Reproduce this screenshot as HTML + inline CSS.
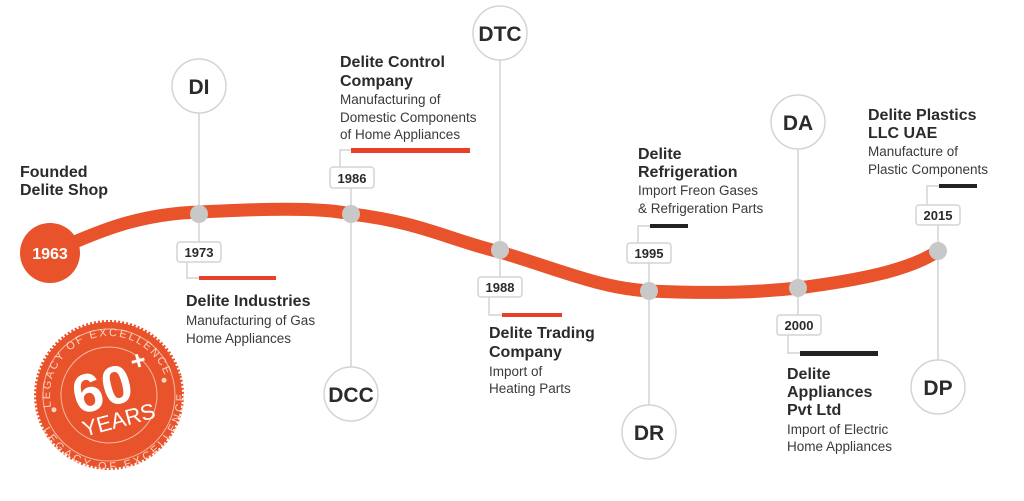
<!DOCTYPE html>
<html><head><meta charset="utf-8"><style>
html,body{margin:0;padding:0;background:#fff;}
svg{display:block}
text{font-family:"Liberation Sans",sans-serif;}
.h{font-weight:bold;font-size:16px;fill:#2b2b2b}
.s{font-size:13.5px;fill:#3a3a3a}
.y{font-weight:bold;font-size:13px;fill:#2b2b2b}
.c{font-weight:bold;font-size:21px;fill:#2b2b2b}
</style></head><body>
<svg width="1024" height="501" viewBox="0 0 1024 501" xmlns="http://www.w3.org/2000/svg">
<defs>
<path id="arcT" d="M 50 395 A 59 59 0 0 1 168 395"/>
<path id="arcB" d="M 43 395 A 66 66 0 0 0 175 395"/>
</defs>
<g stroke="#d4d4d4" stroke-width="1.5" fill="none">
<line x1="199" y1="113" x2="199" y2="242"/>
<polyline points="187,262 187,278 199,278"/>
<line x1="351" y1="188" x2="351" y2="367"/>
<polyline points="340,167 340,150 351,150"/>
<line x1="500" y1="60" x2="500" y2="277"/>
<polyline points="489,297 489,315 502,315"/>
<line x1="649" y1="263" x2="649" y2="405"/>
<polyline points="638,243 638,226 650,226"/>
<line x1="798" y1="149" x2="798" y2="315"/>
<polyline points="788,335 788,353 800,353"/>
<line x1="938" y1="225" x2="938" y2="360"/>
<polyline points="927,205 927,186 939,186"/>
</g>
<path d="M50 253 C 100 230, 140 214, 199 212 C 260 209, 320 207, 351 214 C 420 222, 450 240, 500 252 C 560 270, 600 288, 649 291 C 720 294, 760 292, 798 288 C 860 280, 910 270, 938 251" stroke="#e8532b" stroke-width="13" fill="none"/>
<circle cx="50" cy="253" r="30" fill="#e8532b"/>
<text x="50" y="259" text-anchor="middle" font-weight="bold" font-size="16" fill="#fff">1963</text>
<g fill="#c8c8c8">
<circle cx="199" cy="214" r="9"/><circle cx="351" cy="214" r="9"/><circle cx="500" cy="250" r="9"/>
<circle cx="649" cy="291" r="9"/><circle cx="798" cy="288" r="9"/><circle cx="938" cy="251" r="9"/>
</g>
<g fill="#fff" stroke="#d4d4d4" stroke-width="1.5">
<circle cx="199" cy="86" r="27"/><circle cx="351" cy="394" r="27"/><circle cx="500" cy="33" r="27"/>
<circle cx="649" cy="432" r="27"/><circle cx="798" cy="122" r="27"/><circle cx="938" cy="387" r="27"/>
<rect x="177" y="242" width="44" height="20" rx="3"/>
<rect x="330" y="167" width="44" height="21" rx="3"/>
<rect x="478" y="277" width="44" height="20" rx="3"/>
<rect x="627" y="243" width="44" height="20" rx="3"/>
<rect x="777" y="315" width="44" height="20" rx="3"/>
<rect x="916" y="205" width="44" height="20" rx="3"/>
</g>
<g text-anchor="middle">
<text class="c" x="199" y="94">DI</text><text class="c" x="351" y="402">DCC</text><text class="c" x="500" y="41">DTC</text>
<text class="c" x="649" y="440">DR</text><text class="c" x="798" y="130">DA</text><text class="c" x="938" y="395">DP</text>
<text class="y" x="199" y="257">1973</text><text class="y" x="352" y="183">1986</text><text class="y" x="500" y="292">1988</text>
<text class="y" x="649" y="258">1995</text><text class="y" x="799" y="330">2000</text><text class="y" x="938" y="220">2015</text>
</g>
<rect x="199" y="276" width="77" height="4" fill="#e8402a"/>
<rect x="351" y="148" width="119" height="5" fill="#e8402a"/>
<rect x="502" y="313" width="60" height="4" fill="#e8402a"/>
<rect x="650" y="224" width="38" height="4" fill="#222"/>
<rect x="800" y="351" width="78" height="5" fill="#222"/>
<rect x="939" y="184" width="38" height="4" fill="#222"/>
<text class="h" x="20" y="177">Founded</text><text class="h" x="20" y="195">Delite Shop</text>
<text class="h" x="186" y="306">Delite Industries</text>
<text class="s" x="186" y="325">Manufacturing of Gas</text><text class="s" x="186" y="343">Home Appliances</text>
<text class="h" x="340" y="67">Delite Control</text><text class="h" x="340" y="86">Company</text>
<text class="s" x="340" y="104">Manufacturing of</text><text class="s" x="340" y="122">Domestic Components</text><text class="s" x="340" y="139">of Home Appliances</text>
<text class="h" x="489" y="338">Delite Trading</text><text class="h" x="489" y="357">Company</text>
<text class="s" x="489" y="376">Import of</text><text class="s" x="489" y="393">Heating Parts</text>
<text class="h" x="638" y="159">Delite</text><text class="h" x="638" y="177">Refrigeration</text>
<text class="s" x="638" y="195">Import Freon Gases</text><text class="s" x="638" y="213">&amp; Refrigeration Parts</text>
<text class="h" x="787" y="379">Delite</text><text class="h" x="787" y="397">Appliances</text><text class="h" x="787" y="415">Pvt Ltd</text>
<text class="s" x="787" y="434">Import of Electric</text><text class="s" x="787" y="451">Home Appliances</text>
<text class="h" x="868" y="120">Delite Plastics</text><text class="h" x="868" y="138">LLC UAE</text>
<text class="s" x="868" y="156">Manufacture of</text><text class="s" x="868" y="174">Plastic Components</text>
<g transform="rotate(-15 109 395)">
<circle cx="109" cy="395" r="73" fill="#e8532b" stroke="#e8532b" stroke-width="4" stroke-dasharray="2 2"/>
<circle cx="109" cy="395" r="66" fill="none" stroke="#f5b8a0" stroke-width="1"/>
<circle cx="109" cy="395" r="48" fill="none" stroke="#f5b8a0" stroke-width="1"/>
<circle cx="52" cy="395" r="2.5" fill="#fbd3c3"/><circle cx="166" cy="395" r="2.5" fill="#fbd3c3"/>
<text font-size="11" fill="#fbd3c3" letter-spacing="2"><textPath href="#arcT" startOffset="50%" text-anchor="middle">LEGACY OF EXCELLENCE</textPath></text>
<text font-size="11" fill="#fbd3c3" letter-spacing="2" dy="9"><textPath href="#arcB" startOffset="50%" text-anchor="middle">LEGACY OF EXCELLENCE</textPath></text>
<text x="104" y="406" text-anchor="middle" font-weight="bold" font-size="54" fill="#fff">60</text>
<text x="146" y="378" text-anchor="middle" font-weight="bold" font-size="26" fill="#fff">+</text>
<text x="112" y="429" text-anchor="middle" font-size="22" fill="#fff">YEARS</text>
</g>
</svg>
</body></html>
